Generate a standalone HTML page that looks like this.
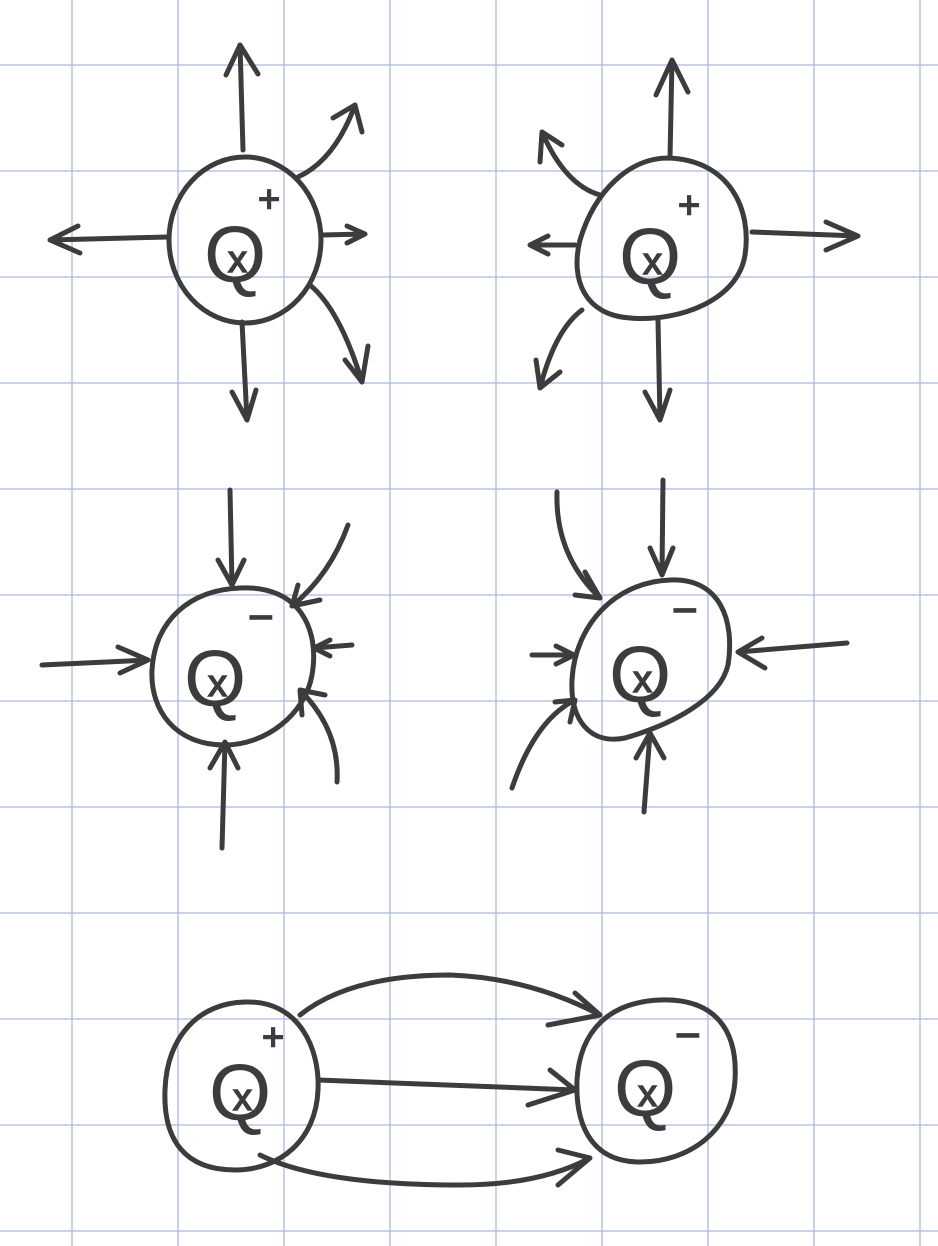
<!DOCTYPE html>
<html><head><meta charset="utf-8"><style>
html,body{margin:0;padding:0;background:#fff;}
svg{display:block}
.s{fill:none;stroke:#3c3c3c;stroke-width:5;stroke-linecap:round;stroke-linejoin:round}
.g{stroke:#a9b9e2;stroke-width:1.3}
.q{font-family:"Liberation Sans",sans-serif;fill:#3c3c3c;}
.p{font-family:"Liberation Sans",sans-serif;fill:#3c3c3c;stroke:#3c3c3c;stroke-width:1.5;}
</style></head><body>
<svg width="938" height="1246" viewBox="0 0 938 1246">
<g id="grid"></g>

<g>
<ellipse class="s" cx="245" cy="240" rx="76" ry="83"/>
<text class="q" x="204" y="282" font-size="80">Q</text><text class="p" x="228" y="272" font-size="38">x</text><text class="p" x="258" y="212" font-size="38">+</text>
<path class="s" d="M243 150 L240 45 M226 75 L240 45 L258 74"/>
<path class="s" d="M168 237 L50 240 M78 226 L50 240 L80 253"/>
<path class="s" d="M322 235 L365 234 M347 226 L365 234 L347 243"/>
<path class="s" d="M242 322 L247 420 M232 392 L247 420 L256 390"/>
<path class="s" d="M298 177 Q335 160 355 105 M333 118 L355 105 L362 132"/>
<path class="s" d="M310 285 Q340 310 362 382 M345 360 L362 382 L368 346"/>
</g>

<g>
<path class="s" d="M668 158 C730 160 752 210 745 255 C738 300 680 322 630 318 C585 315 570 280 580 240 C595 190 630 158 668 158 Z"/>
<text class="q" x="619" y="284" font-size="80">Q</text><text class="p" x="643" y="274" font-size="38">x</text><text class="p" x="678" y="218" font-size="38">+</text>
<path class="s" d="M670 158 L672 60 M656 95 L672 60 L688 92"/>
<path class="s" d="M752 232 L858 236 M826 222 L858 236 L826 250"/>
<path class="s" d="M575 245 L530 245 M548 236 L530 245 L548 254"/>
<path class="s" d="M658 320 L660 420 M645 392 L660 420 L670 390"/>
<path class="s" d="M600 195 Q565 185 542 132 M540 162 L542 132 L562 145"/>
<path class="s" d="M582 310 Q555 330 540 388 M536 360 L540 388 L560 372"/>
</g>

<g>
<path class="s" d="M240 588 C300 585 320 630 312 675 C305 715 265 745 225 745 C175 745 150 710 152 670 C155 620 190 590 240 588 Z"/>
<text class="q" x="184" y="706" font-size="80">Q</text><text class="p" x="208" y="696" font-size="38">x</text><text class="p" x="248" y="632" font-size="44">−</text>
<path class="s" d="M230 490 L232 585 M218 560 L232 585 L244 560"/>
<path class="s" d="M42 665 L148 660 M118 647 L148 660 L120 673"/>
<path class="s" d="M348 525 Q330 575 292 606 M320 600 L292 606 L298 585"/>
<path class="s" d="M352 645 L314 648 M330 640 L314 648 L330 656"/>
<path class="s" d="M337 782 Q340 730 300 690 M302 715 L300 690 L325 695"/>
<path class="s" d="M222 848 L225 742 M210 768 L225 742 L238 768"/>
</g>

<g>
<path class="s" d="M670 580 C720 578 735 620 728 665 C720 700 670 725 625 738 C590 745 570 720 572 680 C575 625 615 582 670 580 Z"/>
<text class="q" x="609" y="702" font-size="80">Q</text><text class="p" x="633" y="692" font-size="38">x</text><text class="p" x="672" y="625" font-size="44">−</text>
<path class="s" d="M663 480 L662 575 M650 548 L662 575 L673 548"/>
<path class="s" d="M557 492 Q555 555 600 598 M585 572 L600 598 L575 595"/>
<path class="s" d="M532 655 L574 655 M556 646 L574 655 L556 664"/>
<path class="s" d="M847 643 L738 652 M762 638 L738 652 L765 668"/>
<path class="s" d="M512 788 Q535 720 575 700 M555 702 L575 700 L570 722"/>
<path class="s" d="M644 812 L650 733 M636 758 L650 733 L664 758"/>
</g>

<g>
<path class="s" d="M245 1002 C300 1000 320 1050 318 1090 C316 1140 280 1170 235 1170 C185 1170 163 1140 165 1090 C167 1035 200 1003 245 1002 Z"/>
<text class="q" x="209" y="1120" font-size="80">Q</text><text class="p" x="233" y="1110" font-size="38">x</text><text class="p" x="262" y="1050" font-size="38">+</text>
<path class="s" d="M660 1000 C715 998 738 1030 735 1080 C732 1130 690 1162 640 1162 C595 1162 575 1130 577 1080 C580 1030 610 1002 660 1000 Z"/>
<text class="q" x="614" y="1116" font-size="80">Q</text><text class="p" x="638" y="1106" font-size="38">x</text><text class="p" x="675" y="1050" font-size="44">−</text>
<path class="s" d="M300 1015 Q350 975 450 975 Q530 978 600 1015 M575 993 L600 1015 L548 1025"/>
<path class="s" d="M318 1080 L575 1090 M550 1070 L575 1090 L528 1105"/>
<path class="s" d="M260 1155 Q320 1185 460 1185 Q540 1185 590 1158 M558 1150 L590 1158 L558 1185"/>
</g>
</svg>
<script>
var g=document.getElementById('grid');
var xs=[72,178,284,390,496,602,708,814,920];
var ys=[65,171,277,383,489,595,701,807,913,1019,1125,1231];
xs.forEach(function(x){var l=document.createElementNS('http://www.w3.org/2000/svg','line');


l.setAttribute('class','g');l.setAttribute('x1',x);l.setAttribute('x2',x);l.setAttribute('y1',0);l.setAttribute('y2',1246);g.appendChild(l);});
ys.forEach(function(y){var l=document.createElementNS('http://www.w3.org/2000/svg','line');


l.setAttribute('class','g');l.setAttribute('y1',y);l.setAttribute('y2',y);l.setAttribute('x1',0);l.setAttribute('x2',938);g.appendChild(l);});
</script>
</body></html>
